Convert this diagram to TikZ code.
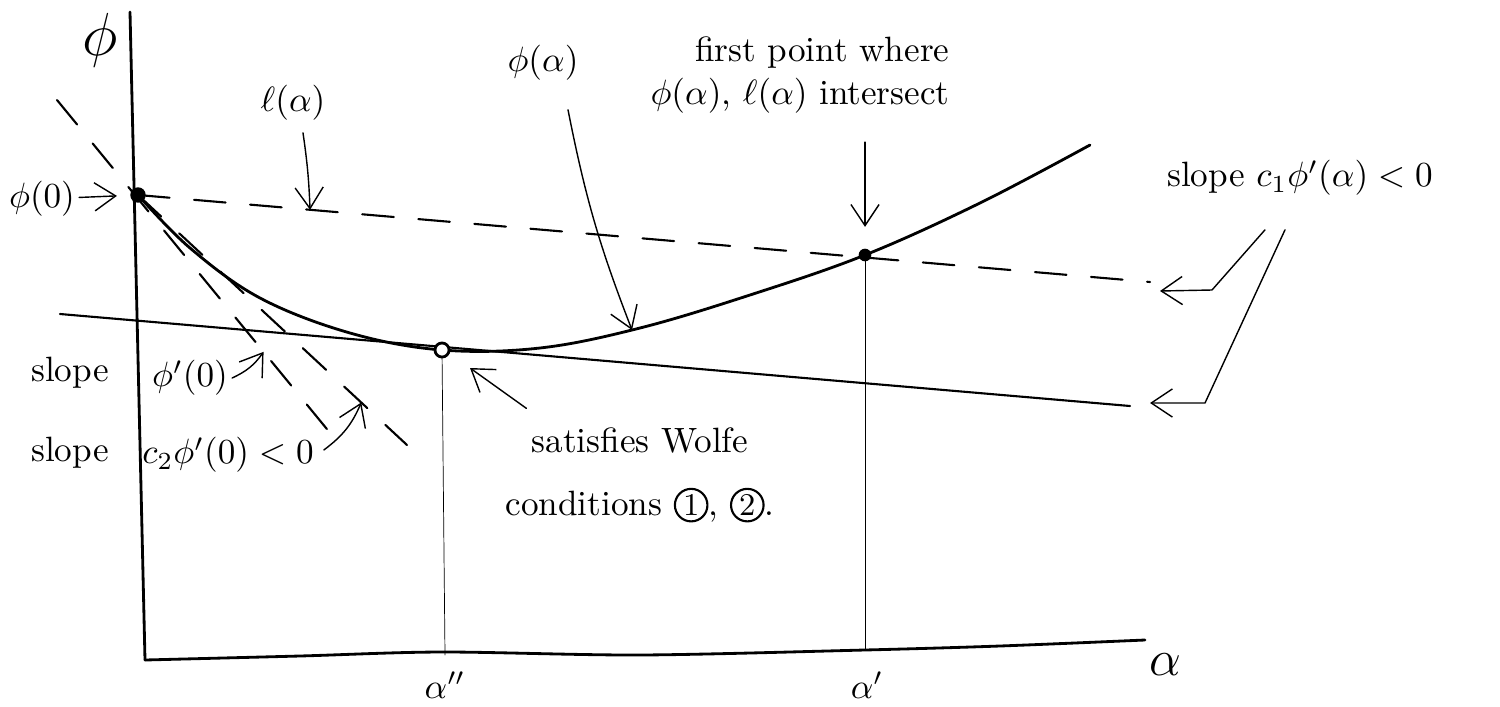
\documentclass[tikz,border=0pt]{standalone}
\usetikzlibrary{arrows.meta}
\newcommand{\cnum}[1]{\tikz[baseline=(n.base)]\node[draw,circle,semithick,inner sep=0.6pt,font=\small](n){#1};}
\begin{document}
\begin{tikzpicture}[x=0.01cm,y=-0.01cm,>={Straight Barb[length=6pt,width=8pt]}, font=\normalsize, line join=round, line cap=round]
\tikzset{lbl/.style={inner sep=1pt}, dsh/.style={semithick,dash pattern=on 9pt off 7pt}}
\useasboundingbox (0,0) rectangle (1500,706);
\coordinate (O) at (145,660);
\coordinate (P0) at (138,195);
\coordinate (Pb) at (442,350);
\coordinate (Pa) at (865,255);
% axes
\draw[thick] (130,12) -- (O);
\draw[thick] plot[smooth] coordinates {(145,660) (300,656) (442,652) (640,655) (865,650) (1000,646) (1145,640)};
% phi(alpha)
\draw[thick] plot[smooth,tension=0.6] coordinates {(138,195) (190,248) (260,298) (350,333) (442,350) (540,348) (640,328) (750,295) (865,255) (980,203) (1090,145)};
% l(alpha) and the slopes
\draw[dsh] (P0) -- coordinate[pos=0.17] (L1) (1150,282);
\draw[dsh] (57,100) -- coordinate[pos=0.73] (T1) (340,445);
\draw[dsh] (P0) -- coordinate[pos=0.83] (T2) (407,445);
\draw[semithick] (60,314) -- (1130,406);
\draw[very thin] (Pb) -- (445,655);
\draw[very thin] (Pa) -- (865,650);
\fill (P0) circle(2.2pt);
\fill (Pa) circle(1.8pt);
\draw[thick,fill=white] (Pb) circle(2pt);
% labels
\node[lbl] (yl) at (100,40) {\LARGE$\phi$};
\node[lbl] (xl) at (1165,665) {\Large$\alpha$};
\node[lbl] (ab) at (445,685) {$\alpha''$};
\node[lbl] (aa) at (867,685) {$\alpha'$};
\node[lbl] (lphi0) at (42,199) {$\phi(0)$};
\draw[->,shorten >=6pt] (lphi0) -- (P0);
\node[lbl] (lell) at (293,103) {$\ell(\alpha)$};
\draw[->] (lell.south) ++(10,8) to[bend left=3] (L1);
\node[lbl] (lphi) at (543,63) {$\phi(\alpha)$};
\draw[->] (lphi.south) ++(25,25) to[bend right=5] (632,330);
\node[lbl,align=right] (lfirst) at (800,75) {first point where\\$\phi(\alpha)$, $\ell(\alpha)$ intersect};
\draw[->,shorten >=8pt] (lfirst.south -| Pa) ++(0,25) -- (Pa);
\node[lbl] (lc1) at (1300,178) {slope $c_1\phi'(\alpha)<0$};
\draw[->] ([xshift=-3.5mm,yshift=-3mm]lc1.south) -- (1212,290) -- (1160,291);
\draw[->] ([xshift=-1.5mm,yshift=-3mm]lc1.south) -- (1205,403) -- (1150,403);
\node[lbl] (ls1) at (70,373) {slope};
\node[lbl] (ld1) at (190,378) {$\phi'(0)$};
\draw[->] (ld1.east) to[bend right=15] (T1);
\node[lbl] (ls2) at (70,453) {slope};
\node[lbl] (ld2) at (228,455) {$c_2\phi'(0)<0$};
\draw[->] (ld2.east) ++(6,-5) to[bend right=15] (T2);
\node[lbl,align=center] (lwolfe) at (640,475) {satisfies Wolfe\\[6pt]conditions \cnum{1}, \cnum{2}.};
\draw[->] (lwolfe.north west) ++(25,-15) -- (470,368);
\end{tikzpicture}
\end{document}
